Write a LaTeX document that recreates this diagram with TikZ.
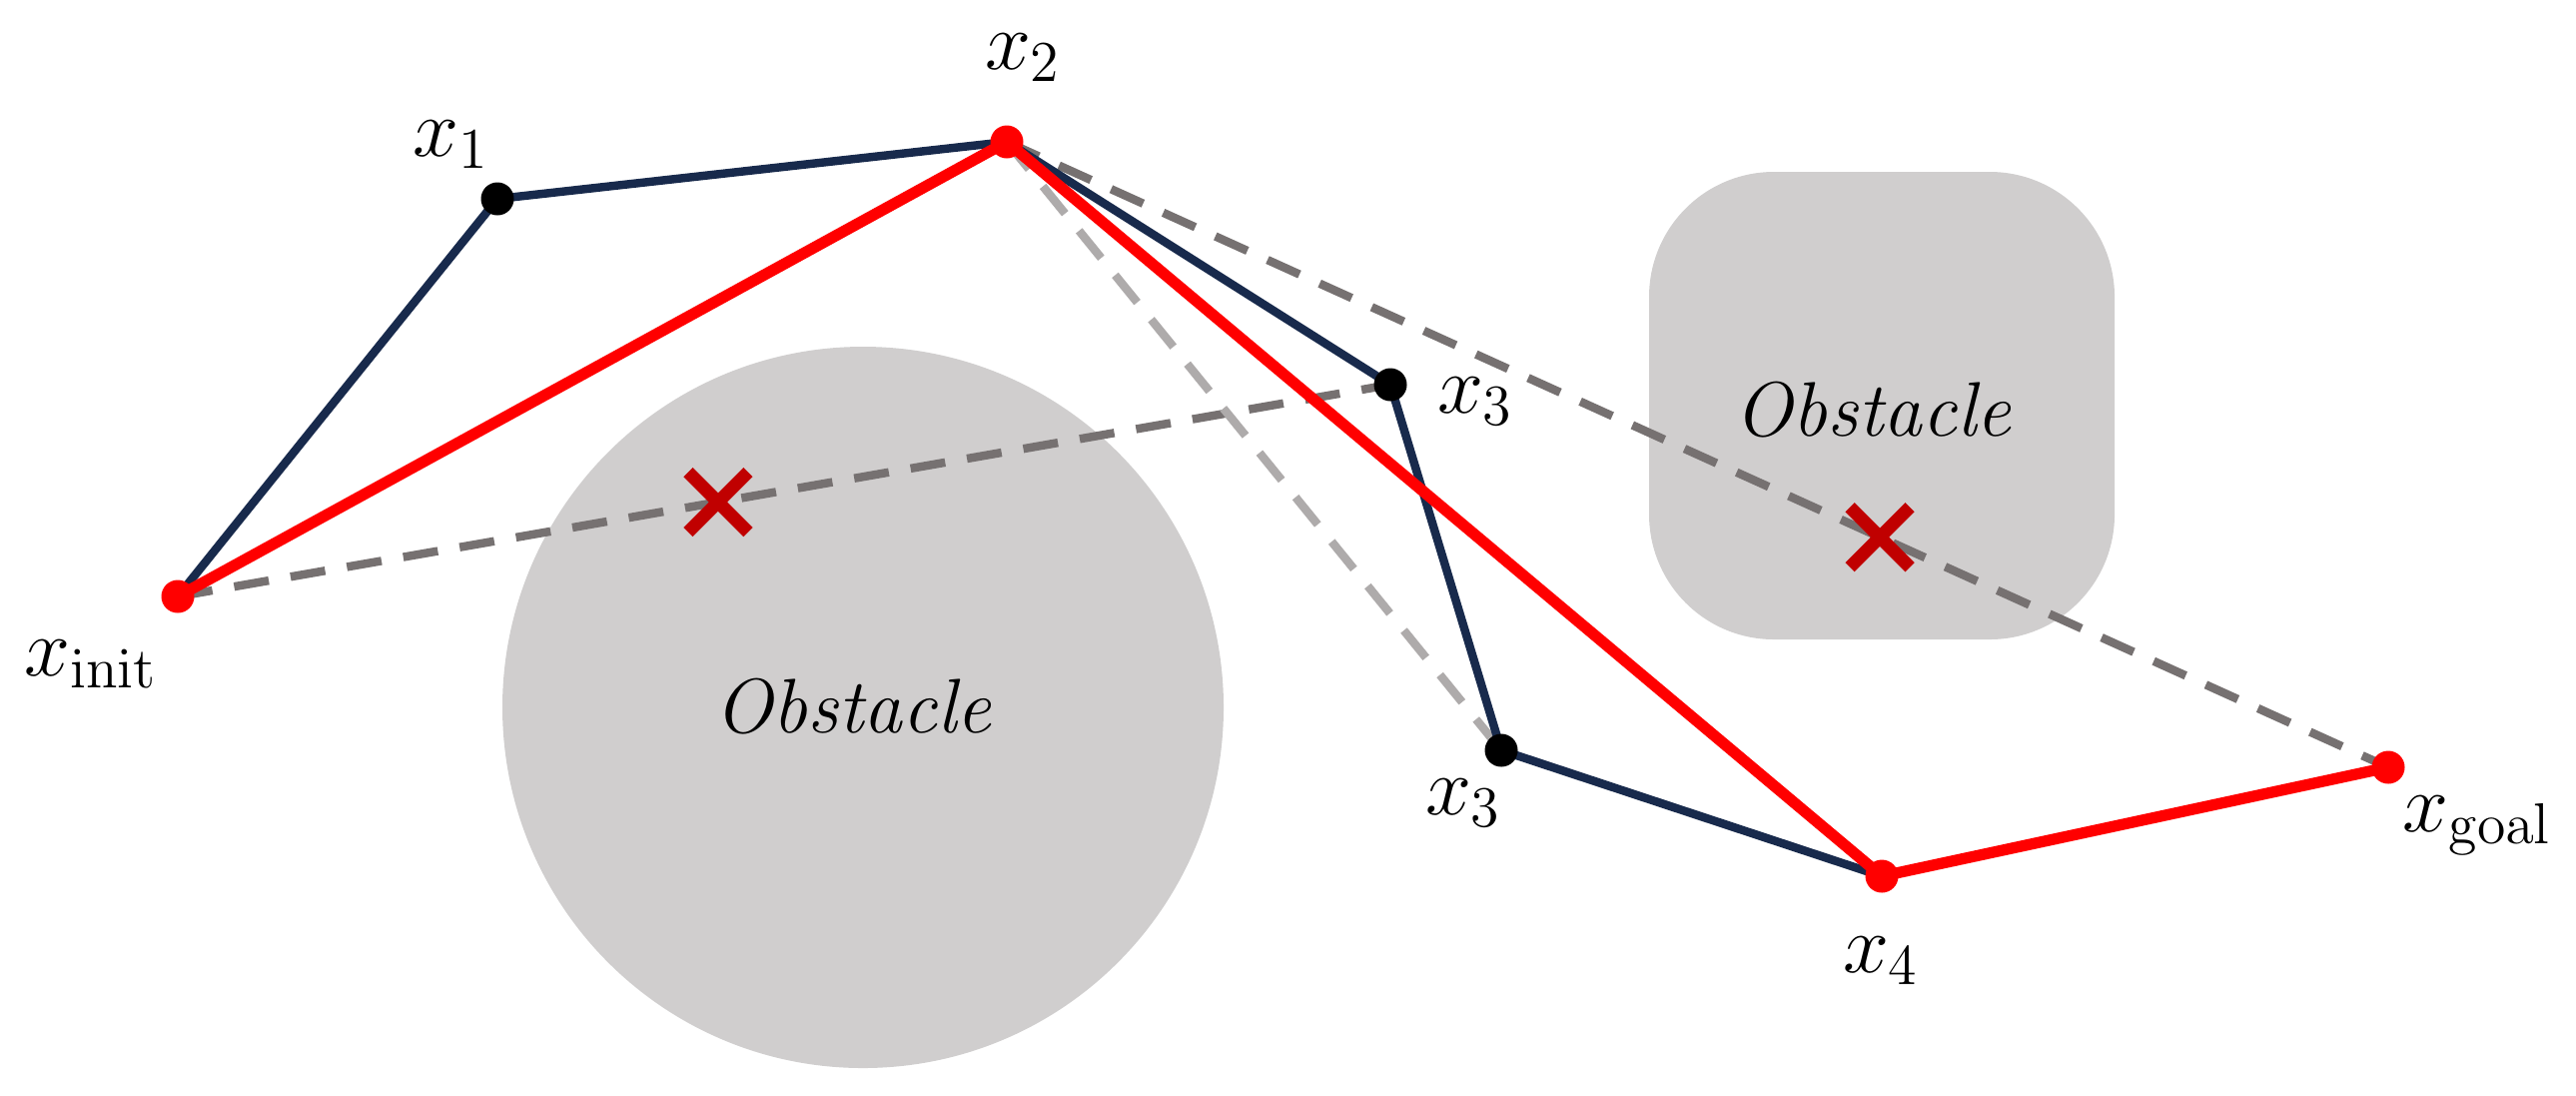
\RequirePackage{fix-cm}
\documentclass[tikz,border=0pt]{standalone}
\definecolor{navy}{HTML}{182A4C}
\definecolor{obst}{HTML}{D0CECE}
\definecolor{dgray}{HTML}{767171}
\definecolor{lgray}{HTML}{AEABAB}
\definecolor{xred}{HTML}{C00000}
\tikzset{
  route/.style={line width=3.2pt, red},
  tree/.style={line width=2.4pt, navy},
  probe/.style={line width=2.4pt, dash pattern=on 10pt off 6.3pt},
  blocked/.style={line width=3.7pt, xred},
  lbl/.style={anchor=base, inner sep=0pt, font=\fontsize{23.5}{28}\selectfont},
  obstxt/.style={inner sep=0pt, font=\fontsize{22}{26}\selectfont\itshape},
}
\begin{document}
\begin{tikzpicture}
\useasboundingbox (0,0) rectangle (25.79,-10.96);
\coordinate (init) at (1.78,-5.97);
\coordinate (x1) at (4.98,-1.99);
\coordinate (x2) at (10.08,-1.42);
\coordinate (x3a) at (13.92,-3.85);
\coordinate (x3b) at (15.03,-7.51);
\coordinate (x4) at (18.84,-8.77);
\coordinate (goal) at (23.91,-7.68);
\fill[obst] (8.64,-7.08) circle (3.61);
\fill[obst, rounded corners=1.25cm] (16.51,-1.72) rectangle (21.17,-6.40);
\node[obstxt] (obs1) at (8.54,-7.07) {Obstacle};
\node[obstxt] (obs2) at (18.75,-4.10) {Obstacle};
\draw[probe, dgray] (init) -- (x3a) coordinate[pos=0.4456] (c1);
\draw[probe, dgray] (x2) -- (goal) coordinate[pos=0.632] (c2);
\draw[probe, lgray] (x2) -- (x3b);
\draw[tree] (init) -- (x1) -- (x2) -- (x3a) -- (x3b) -- (x4);
\draw[route] (init) -- (x2) -- (x4) -- (goal);
\foreach \p in {init,x2,x4,goal} \fill[red] (\p) circle (0.165);
\foreach \p in {x1,x3a,x3b} \fill[black] (\p) circle (0.165);
\foreach \c in {c1,c2}
  \draw[blocked] (\c) +(-0.3,0.3) -- +(0.3,-0.3) (\c) +(-0.3,-0.3) -- +(0.3,0.3);
\node[lbl] (linit) at (0.91,-6.76) {$x_{\mathrm{init}}$};
\node[lbl] (l1) at (4.52,-1.56) {$x_1$};
\node[lbl] (l2) at (10.24,-0.69) {$x_2$};
\node[lbl] (l3a) at (14.77,-4.13) {$x_3$};
\node[lbl] (l3b) at (14.65,-8.15) {$x_3$};
\node[lbl] (l4) at (18.83,-9.73) {$x_4$};
\node[lbl] (lgoal) at (24.80,-8.32) {$x_{\mathrm{goal}}$};
\end{tikzpicture}
\end{document}
